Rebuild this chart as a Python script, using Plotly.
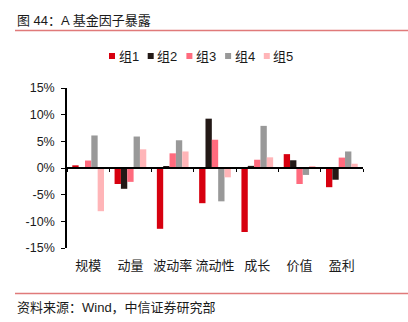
import plotly.graph_objects as go

categories = ["规模", "动量", "波动率", "流动性", "成长", "价值", "盈利"]
series_names = ["组1", "组2", "组3", "组4", "组5"]
g1 = [0.5, -3.0, -11.4, -6.6, -12.0, 2.6, -3.6]
g2 = [0.0, -3.9, 0.3, 9.25, 0.4, 1.45, -2.2]
g3 = [1.4, -2.6, 2.75, 5.3, 1.55, -3.0, 1.95]
g4 = [6.1, 5.9, 5.2, -6.25, 7.9, -1.3, 3.1]
g5 = [-8.1, 3.5, 3.1, -1.75, 2.0, 0.2, 0.8]
series_values = [g1, g2, g3, g4, g5]
colors = ["#D7000F", "#231916", "#FF6B7E", "#999999", "#FFB5B8"]
y_ticks = [-15, -10, -5, 0, 5, 10, 15]
y_tick_labels = ["-15%", "-10%", "-5%", "0%", "5%", "10%", "15%"]

title_text = "图 44：A 基金因子暴露"
source_text = "资料来源：Wind，中信证券研究部"

W, H = 408, 322
ML, MR, MT, MB = 67, 45, 88, 74
PW = W - ML - MR
PH = H - MT - MB

def px_x(x):
    return (x - ML) / PW

def px_y(y):
    return (H - MB - y) / PH

FONT = "Liberation Sans, Arial, Noto Sans CJK SC, sans-serif"

fig = go.Figure()
for name, vals, c in zip(series_names, series_values, colors):
    fig.add_trace(go.Bar(x=categories, y=vals, name=name, marker_color=c,
                         marker_line_width=0, showlegend=False))

# overlay axis at zero for the baseline with boundary ticks
fig.add_trace(go.Scatter(x=categories, y=[None] * len(categories), xaxis="x2",
                         mode="markers", showlegend=False, hoverinfo="skip"))

fig.update_layout(
    width=W, height=H,
    margin=dict(l=ML, r=MR, t=MT, b=MB),
    paper_bgcolor="white", plot_bgcolor="white",
    barmode="group", bargap=0.25, bargroupgap=0,
    font=dict(family=FONT, size=13, color="#1a1a1a"),
    xaxis=dict(type="category", categoryarray=categories, range=[-0.5, 6.5],
               showline=False, ticks="", showgrid=False, zeroline=False,
               ticklabelstandoff=8, tickfont=dict(size=13)),
    xaxis2=dict(type="category", categoryarray=categories, range=[-0.5, 6.5],
                overlaying="x", anchor="free", position=0.5,
                showline=True, linecolor="black", linewidth=1.5,
                ticks="outside", tickson="boundaries", ticklen=3,
                tickcolor="black", tickwidth=1.2,
                showticklabels=False, showgrid=False, zeroline=False),
    yaxis=dict(range=[-15, 15], tickmode="array", tickvals=y_ticks,
               ticktext=y_tick_labels,
               showline=True, linecolor="black", linewidth=1.5,
               ticks="outside", ticklen=4, tickcolor="black",
               showgrid=False, zeroline=False, ticklabelstandoff=4,
               tickfont=dict(size=12.5)),
)

# manual legend
leg_x0 = 112
leg_step = 38.7
leg_y = 56
for i, (name, c) in enumerate(zip(series_names, colors)):
    cx = leg_x0 + i * leg_step
    fig.add_shape(type="rect", xref="paper", yref="paper",
                  xsizemode="pixel", ysizemode="pixel",
                  xanchor=px_x(cx), yanchor=px_y(leg_y),
                  x0=-3, x1=3, y0=-3, y1=3,
                  fillcolor=c, line_width=0)
    fig.add_annotation(x=px_x(cx + 4.5), y=px_y(leg_y), xref="paper", yref="paper",
                       text=name, showarrow=False, xanchor="left", yanchor="middle",
                       font=dict(size=13, color="#1a1a1a"))

# title and source
fig.add_annotation(x=px_x(15), y=px_y(20), xref="paper", yref="paper",
                   text=title_text, showarrow=False, xanchor="left", yanchor="middle",
                   font=dict(size=13, color="#1a1a1a"))
fig.add_annotation(x=px_x(15), y=px_y(307), xref="paper", yref="paper",
                   text=source_text, showarrow=False, xanchor="left", yanchor="middle",
                   font=dict(size=13, color="#1a1a1a"))
for yy in (30.5, 293.5):
    fig.add_shape(type="line", xref="paper", yref="paper",
                  x0=px_x(15), x1=px_x(408), y0=px_y(yy), y1=px_y(yy),
                  line=dict(color="#E07A7A", width=1.5))

fig.write_html("out.html")
